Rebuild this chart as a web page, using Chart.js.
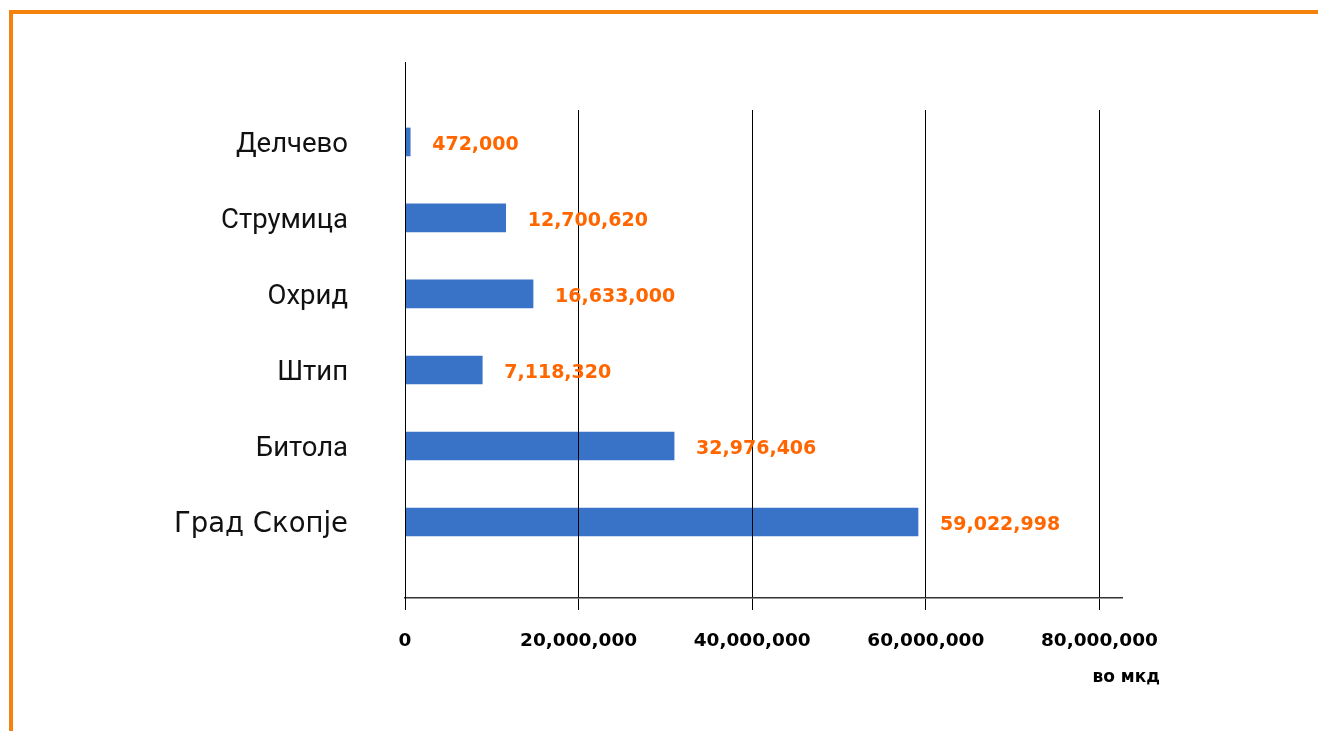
<!DOCTYPE html>
<html><head><meta charset="utf-8">
<script src="https://cdn.jsdelivr.net/npm/chart.js@4"></script>
<style>
html,body{margin:0;padding:0;background:#fff;overflow:hidden}
#wrap{position:relative;width:1318px;height:731px;overflow:hidden}
#frame{position:absolute;left:9px;top:10px;right:-10px;bottom:-10px;border-top:4px solid #F5820D;border-left:4px solid #F5820D}
canvas{position:absolute;left:0;top:0}
</style></head><body>
<div id="wrap"><div id="frame"></div><canvas id="c" width="1318" height="731"></canvas></div>
<script>
const categories = ['Делчево','Струмица','Охрид','Штип','Битола','Град Скопје'];
const barValues = [600000, 11600000, 14750000, 8900000, 31000000, 59100000];
const valueLabels = ['472,000','12,700,620','16,633,000','7,118,320','32,976,406','59,022,998'];
const xTicks = [0, 20000000, 40000000, 60000000, 80000000];
const unitLabel = 'во мкд';

const labelFont = 'bold 19px "DejaVu Sans", Verdana, sans-serif';

const overlay = {
  id: 'overlay',
  afterDraw(chart) {
    const ctx = chart.ctx;
    const xs = chart.scales.x;
    const x0 = Math.round(xs.getPixelForValue(0)) + 0.5;
    ctx.save();
    // full y axis line, extending above the plot
    ctx.strokeStyle = '#000';
    ctx.lineWidth = 1;
    ctx.beginPath();
    ctx.moveTo(x0, chart.chartArea.top - 48);
    ctx.lineTo(x0, chart.chartArea.bottom + 12);
    ctx.stroke();
    // value labels
    ctx.font = labelFont;
    ctx.fillStyle = '#FF6600';
    ctx.textAlign = 'left';
    ctx.textBaseline = 'middle';
    const meta = chart.getDatasetMeta(0);
    meta.data.forEach((bar, i) => {
      ctx.fillText(valueLabels[i], bar.x + 22, bar.y + 3);
    });
    // unit label
    ctx.fillStyle = '#000';
    ctx.textAlign = 'right';
    ctx.font = 'bold 17px "DejaVu Sans", Verdana, sans-serif';
    ctx.fillText(unitLabel, xs.right + 38, chart.chartArea.bottom + 80);
    ctx.restore();
  }
};

new Chart(document.getElementById('c'), {
  type: 'bar',
  data: {
    datasets: [{
      data: barValues.map((v, i) => ({x: v, y: i})),
      backgroundColor: '#3973C8',
      barThickness: 28,
      clip: false
    }]
  },
  options: {
    indexAxis: 'y',
    responsive: false,
    animation: false,
    layout: {padding: {top: 110, right: 196, left: 0, bottom: 0}},
    plugins: {legend: {display: false}, tooltip: {enabled: false}},
    scales: {
      x: {
        type: 'linear',
        position: 'bottom',
        min: 0,
        max: 82600000,
        afterBuildTicks: s => { s.ticks = xTicks.map(v => ({value: v})); },
        afterFit: s => { s.height = 133; },
        ticks: {
          callback: v => Number(v).toLocaleString('en-US'),
          font: {family: '"DejaVu Sans", Verdana, sans-serif', size: 18.5, weight: 'bold'},
          color: '#000',
          padding: 20,
          maxRotation: 0,
          autoSkip: false
        },
        grid: {color: '#000', lineWidth: 1, tickLength: 12, drawTicks: true, tickColor: '#000', z: 1},
        border: {display: true, color: '#333', width: 1.5, z: 1}
      },
      y: {
        type: 'linear',
        reverse: true,
        offset: false,
        min: -0.42,
        max: 6,
        afterBuildTicks: s => { s.ticks = categories.map((c, i) => ({value: i})); },
        afterFit: s => { s.width = 405; },
        ticks: {
          callback: v => categories[v],
          font: c => (c.index === categories.length - 1)
            ? {family: '"DejaVu Sans", Verdana, sans-serif', size: 27.5}
            : {family: 'Roboto, sans-serif', size: 27.5},
          color: '#111',
          padding: 49,
          labelOffset: 3,
          autoSkip: false
        },
        grid: {display: false},
        border: {display: false}
      }
    }
  },
  plugins: [overlay]
});
</script>
</body></html>
